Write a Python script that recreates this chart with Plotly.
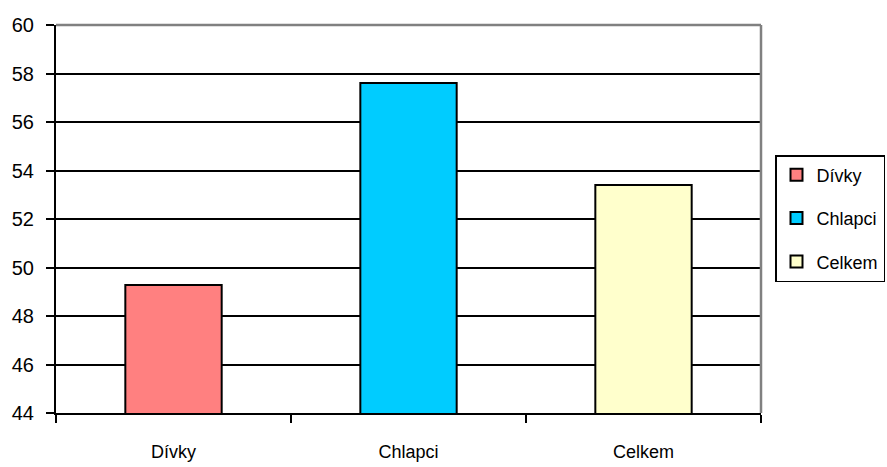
import plotly.graph_objects as go

categories = ["Dívky", "Chlapci", "Celkem"]
values = [49.28, 57.61, 53.40]
colors = ["#FF8080", "#00CCFF", "#FFFFCC"]
y_ticks = [44, 46, 48, 50, 52, 54, 56, 58, 60]

fig = go.Figure()
for i, (c, v, col) in enumerate(zip(categories, values, colors)):
    fig.add_trace(go.Bar(
        x=[c], y=[v], name=c, width=0.41,
        marker=dict(color=col, line=dict(color="black", width=2)),
        legendgroup=str(i),
    ))

fig.update_layout(
    width=887, height=467,
    margin=dict(l=56, r=125.5, t=25, b=54, autoexpand=False),
    paper_bgcolor="white", plot_bgcolor="white",
    barmode="overlay",
    font=dict(family="Liberation Sans, Arial, sans-serif", color="black", size=18),
    showlegend=True,
    legend=dict(
        xref="container", yref="container",
        x=775 / 887, y=(467 - 155) / 467, xanchor="left", yanchor="top",
        bordercolor="black", borderwidth=1.5,
        font=dict(size=18), tracegroupgap=17,
        itemwidth=30,
    ),
    xaxis=dict(
        type="category", categoryorder="array", categoryarray=categories,
        showline=True, linecolor="black", linewidth=1.5,
        ticks="outside", tickson="boundaries", ticklen=8, tickcolor="black", tickwidth=1.5,
        showgrid=False, mirror=False,
        tickfont=dict(size=18),
        ticklabelstandoff=22,
    ),
    yaxis=dict(
        range=[44, 60], tickvals=y_ticks, autorange=False,
        showline=True, linecolor="black", linewidth=2,
        ticks="outside", ticklen=8, tickcolor="black", tickwidth=1.5,
        showgrid=True, gridcolor="black", gridwidth=1.5,
        zeroline=False,
        tickfont=dict(size=20),
        ticklabelstandoff=8,
    ),
)

# gray top/right border of plot area
fig.add_shape(type="line", xref="paper", yref="paper", x0=0, x1=1, y0=1, y1=1,
              line=dict(color="#808080", width=2.5))
fig.add_shape(type="line", xref="paper", yref="paper", x0=1, x1=1, y0=0, y1=1,
              line=dict(color="#808080", width=2.5))

fig.write_html("out.html")
